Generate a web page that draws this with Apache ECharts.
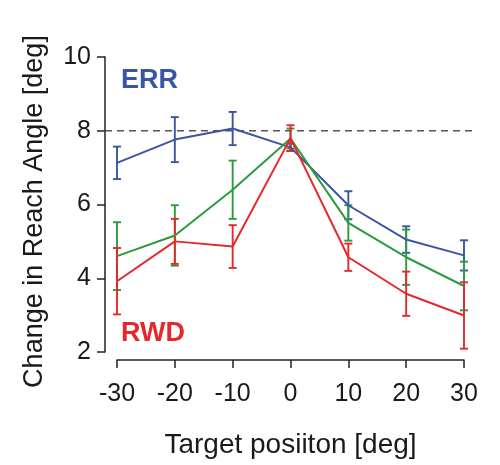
<!DOCTYPE html>
<html>
<head>
<meta charset="utf-8">
<script src="https://cdn.jsdelivr.net/npm/echarts@6/dist/echarts.min.js"></script>
<style>
  html, body { margin: 0; padding: 0; background: #ffffff; }
  #chart { width: 500px; height: 465px; }
</style>
</head>
<body>
<div id="chart"></div>
<script>
// Target positions (deg)
const positions = [-30, -20, -10, 0, 10, 20, 30];
const xTicks = [-30, -20, -10, 0, 10, 20, 30];
const yTicks = [2, 4, 6, 8, 10];
const refLevel = 8;

// Change in reach angle: means and half-widths of error bars
const errMean = [7.13, 7.76, 8.06, 7.55, 5.98, 5.05, 4.62];
const errSpread = [0.44, 0.61, 0.45, 0.10, 0.38, 0.36, 0.41];

const midMean = [4.60, 5.16, 6.40, 7.79, 5.50, 4.57, 3.79];
const midSpread = [0.92, 0.82, 0.79, 0.27, 0.48, 0.75, 0.66];

const rwdMean = [3.92, 5.00, 4.86, 7.80, 4.57, 3.58, 2.99];
const rwdSpread = [0.90, 0.61, 0.58, 0.35, 0.37, 0.60, 0.90];

const BLUE = '#3b55a6';
const GREEN = '#2c9b3d';
const RED = '#e6282c';
const FONT = 'Liberation Sans, Arial, sans-serif';

function pairs(means) {
  return positions.map((p, i) => [p, means[i]]);
}
function bars(means, spread) {
  return positions.map((p, i) => [p, means[i] - spread[i], means[i] + spread[i]]);
}

function errorBarSeries(means, spread, color) {
  return {
    type: 'custom',
    data: bars(means, spread),
    z: 3,
    silent: true,
    renderItem: function (params, api) {
      const x = api.value(0);
      const lo = api.coord([x, api.value(1)]);
      const hi = api.coord([x, api.value(2)]);
      const cap = 4;
      const style = { stroke: color, lineWidth: 1.9, fill: null };
      return {
        type: 'group',
        children: [
          { type: 'line', shape: { x1: lo[0], y1: lo[1], x2: hi[0], y2: hi[1] }, style: style },
          { type: 'line', shape: { x1: lo[0] - cap, y1: lo[1], x2: lo[0] + cap, y2: lo[1] }, style: style },
          { type: 'line', shape: { x1: hi[0] - cap, y1: hi[1], x2: hi[0] + cap, y2: hi[1] }, style: style }
        ]
      };
    }
  };
}

function lineSeries(means, color) {
  return {
    type: 'line',
    data: pairs(means),
    symbol: 'none',
    z: 4,
    lineStyle: { color: color, width: 2 },
    silent: true
  };
}

const chart = echarts.init(document.getElementById('chart'), null, { renderer: 'canvas' });

chart.setOption({
  animation: false,
  backgroundColor: '#ffffff',
  grid: { left: 117, right: 36, top: 57, bottom: 113 },
  xAxis: {
    type: 'value',
    min: xTicks[0],
    max: xTicks[xTicks.length - 1],
    interval: 10,
    offset: 8,
    name: 'Target posiiton [deg]',
    nameLocation: 'middle',
    nameGap: 71,
    nameTextStyle: { fontFamily: FONT, fontSize: 28, color: '#1a1a1a' },
    axisLine: { show: true, onZero: false, lineStyle: { color: '#222', width: 1.5 } },
    axisTick: { show: true, length: 8, lineStyle: { color: '#222', width: 1.5 } },
    axisLabel: { fontFamily: FONT, fontSize: 25, color: '#1a1a1a', margin: 22 },
    splitLine: { show: false }
  },
  yAxis: {
    type: 'value',
    min: yTicks[0],
    max: yTicks[yTicks.length - 1],
    interval: 2,
    offset: 12,
    name: 'Change in Reach Angle [deg]',
    nameLocation: 'middle',
    nameGap: 57,
    nameTextStyle: { fontFamily: FONT, fontSize: 27, color: '#1a1a1a', padding: [0, 14, 0, 0] },
    axisLine: { show: true, onZero: false, lineStyle: { color: '#222', width: 1.5 } },
    axisTick: { show: true, length: 8, lineStyle: { color: '#222', width: 1.5 } },
    axisLabel: { fontFamily: FONT, fontSize: 25, color: '#1a1a1a', margin: 14 },
    splitLine: { show: false }
  },
  series: [
    {
      // dashed reference level
      type: 'custom',
      data: [[refLevel]],
      z: 2,
      silent: true,
      renderItem: function (params, api) {
        const y = api.value(0);
        const a = api.coord([xTicks[0], y]);
        const b = api.coord([xTicks[xTicks.length - 1], y]);
        return {
          type: 'line',
          shape: { x1: a[0] - 12, y1: a[1], x2: b[0] + 11, y2: b[1] },
          style: { stroke: '#555555', lineWidth: 1.5, lineDash: [7, 5] }
        };
      }
    },
    lineSeries(errMean, BLUE),
    errorBarSeries(errMean, errSpread, BLUE),
    lineSeries(midMean, GREEN),
    errorBarSeries(midMean, midSpread, GREEN),
    lineSeries(rwdMean, RED),
    errorBarSeries(rwdMean, rwdSpread, RED)
  ],
  graphic: [
    {
      type: 'text', left: 121, top: 67,
      style: { text: 'ERR', fill: BLUE, font: 'bold 27px ' + FONT }
    },
    {
      type: 'text', left: 121, top: 320,
      style: { text: 'RWD', fill: RED, font: 'bold 27px ' + FONT }
    }
  ]
});
</script>
</body>
</html>
